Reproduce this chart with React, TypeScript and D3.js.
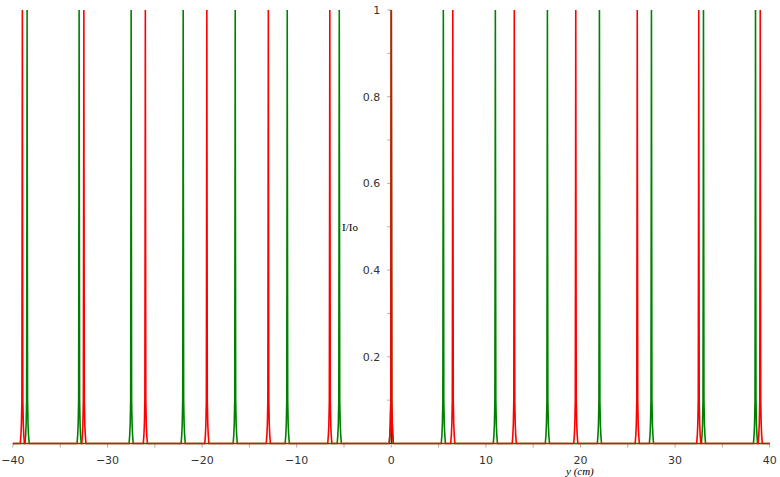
import React, { useRef, useEffect } from "react";
import * as d3 from "d3";

// peak positions (cm)
const redPeaks = [-39, -32.5, -26, -19.5, -13, -6.5, 0, 6.5, 13, 19.5, 26, 32.5, 39];
const greenPeaks = [-38.5, -33, -27.5, -22, -16.5, -11, -5.5, 0, 5.5, 11, 16.5, 22, 27.5, 33, 38.5];

// shape of one principal maximum: offset from centre (cm) and I/Io
const profileOffset = [-0.22, -0.15, -0.1, -0.05, -0.02, 0, 0.02, 0.05, 0.1, 0.15, 0.22];
const profileIntensity = [0, 0.02, 0.045, 0.1, 0.6, 1, 0.6, 0.1, 0.045, 0.02, 0];

const xTicks = [-40, -30, -20, -10, 0, 10, 20, 30, 40];
const xMinorTicks = [-35, -25, -15, -5, 5, 15, 25, 35];
const yTicks = [0.2, 0.4, 0.6, 0.8, 1];
const yMinorTicks = [0.1, 0.3, 0.5, 0.7, 0.9];

const width = 780;
const height = 477;

export default function App() {
  const svgRef = useRef<SVGSVGElement>(null);

  useEffect(() => {
    const svg = d3.select(svgRef.current);
    svg.selectAll("*").remove();

    const x = d3.scaleLinear().domain([-40, 40]).range([12.9, 769.7]);
    const y = d3.scaleLinear().domain([0, 1]).range([443.5, 10]);

    const buildSeries = (peaks: number[]) => {
      const pts: [number, number][] = [[-40, 0]];
      peaks.forEach((p) => {
        profileOffset.forEach((o, i) => pts.push([p + o, profileIntensity[i]]));
      });
      pts.push([40, 0]);
      return pts;
    };

    const line = d3
      .line<[number, number]>()
      .x((d) => x(d[0]))
      .y((d) => y(d[1]));

    // axes
    const axisColor = "#000";
    svg.append("line")
      .attr("x1", x(-40)).attr("x2", x(40))
      .attr("y1", y(0)).attr("y2", y(0))
      .attr("stroke", axisColor).attr("stroke-width", 1);
    svg.append("line")
      .attr("x1", x(0)).attr("x2", x(0))
      .attr("y1", y(0)).attr("y2", y(1))
      .attr("stroke", axisColor).attr("stroke-width", 1);

    const tickColor = "#aaa";
    svg.selectAll(".xt")
      .data(xTicks.concat(xMinorTicks))
      .join("line")
      .attr("x1", (d) => x(d)).attr("x2", (d) => x(d))
      .attr("y1", y(0)).attr("y2", y(0) + 4)
      .attr("stroke", tickColor);
    svg.selectAll(".yt")
      .data(yTicks.concat(yMinorTicks))
      .join("line")
      .attr("x1", x(0) - 4).attr("x2", x(0))
      .attr("y1", (d) => y(d)).attr("y2", (d) => y(d))
      .attr("stroke", tickColor);

    svg.selectAll(".xl")
      .data(xTicks)
      .join("text")
      .attr("x", (d) => x(d))
      .attr("y", y(0) + 20)
      .attr("text-anchor", "middle")
      .attr("font-family", "DejaVu Sans, sans-serif")
      .attr("font-size", 11)
      .attr("fill", "#333")
      .text((d) => (d < 0 ? "\u2212" + Math.abs(d) : String(d)));

    svg.selectAll(".yl")
      .data(yTicks)
      .join("text")
      .attr("x", x(0) - 11)
      .attr("y", (d) => y(d) + 4)
      .attr("text-anchor", "end")
      .attr("font-family", "DejaVu Sans, sans-serif")
      .attr("font-size", 11)
      .attr("fill", "#333")
      .text((d) => String(d));

    // series
    svg.append("path")
      .attr("d", line(buildSeries(greenPeaks)))
      .attr("fill", "none")
      .attr("stroke", "#008000")
      .attr("stroke-width", 1.6);
    svg.append("path")
      .attr("d", line(buildSeries(redPeaks)))
      .attr("fill", "none")
      .attr("stroke", "#ff0000")
      .attr("stroke-width", 1.6);

    // labels
    svg.append("text")
      .attr("x", 342).attr("y", 231)
      .attr("font-family", "Liberation Serif, serif")
      .attr("font-size", 11)
      .attr("fill", "#000")
      .text("I/Io");
    svg.append("text")
      .attr("x", 566).attr("y", 475)
      .attr("font-family", "Liberation Serif, serif")
      .attr("font-style", "italic")
      .attr("font-size", 11)
      .attr("fill", "#000")
      .text("y (cm)");
  }, []);

  return (
    <svg
      ref={svgRef}
      width={width}
      height={height}
      style={{ position: "absolute", left: 0, top: 0, background: "#fff" }}
    />
  );
}
